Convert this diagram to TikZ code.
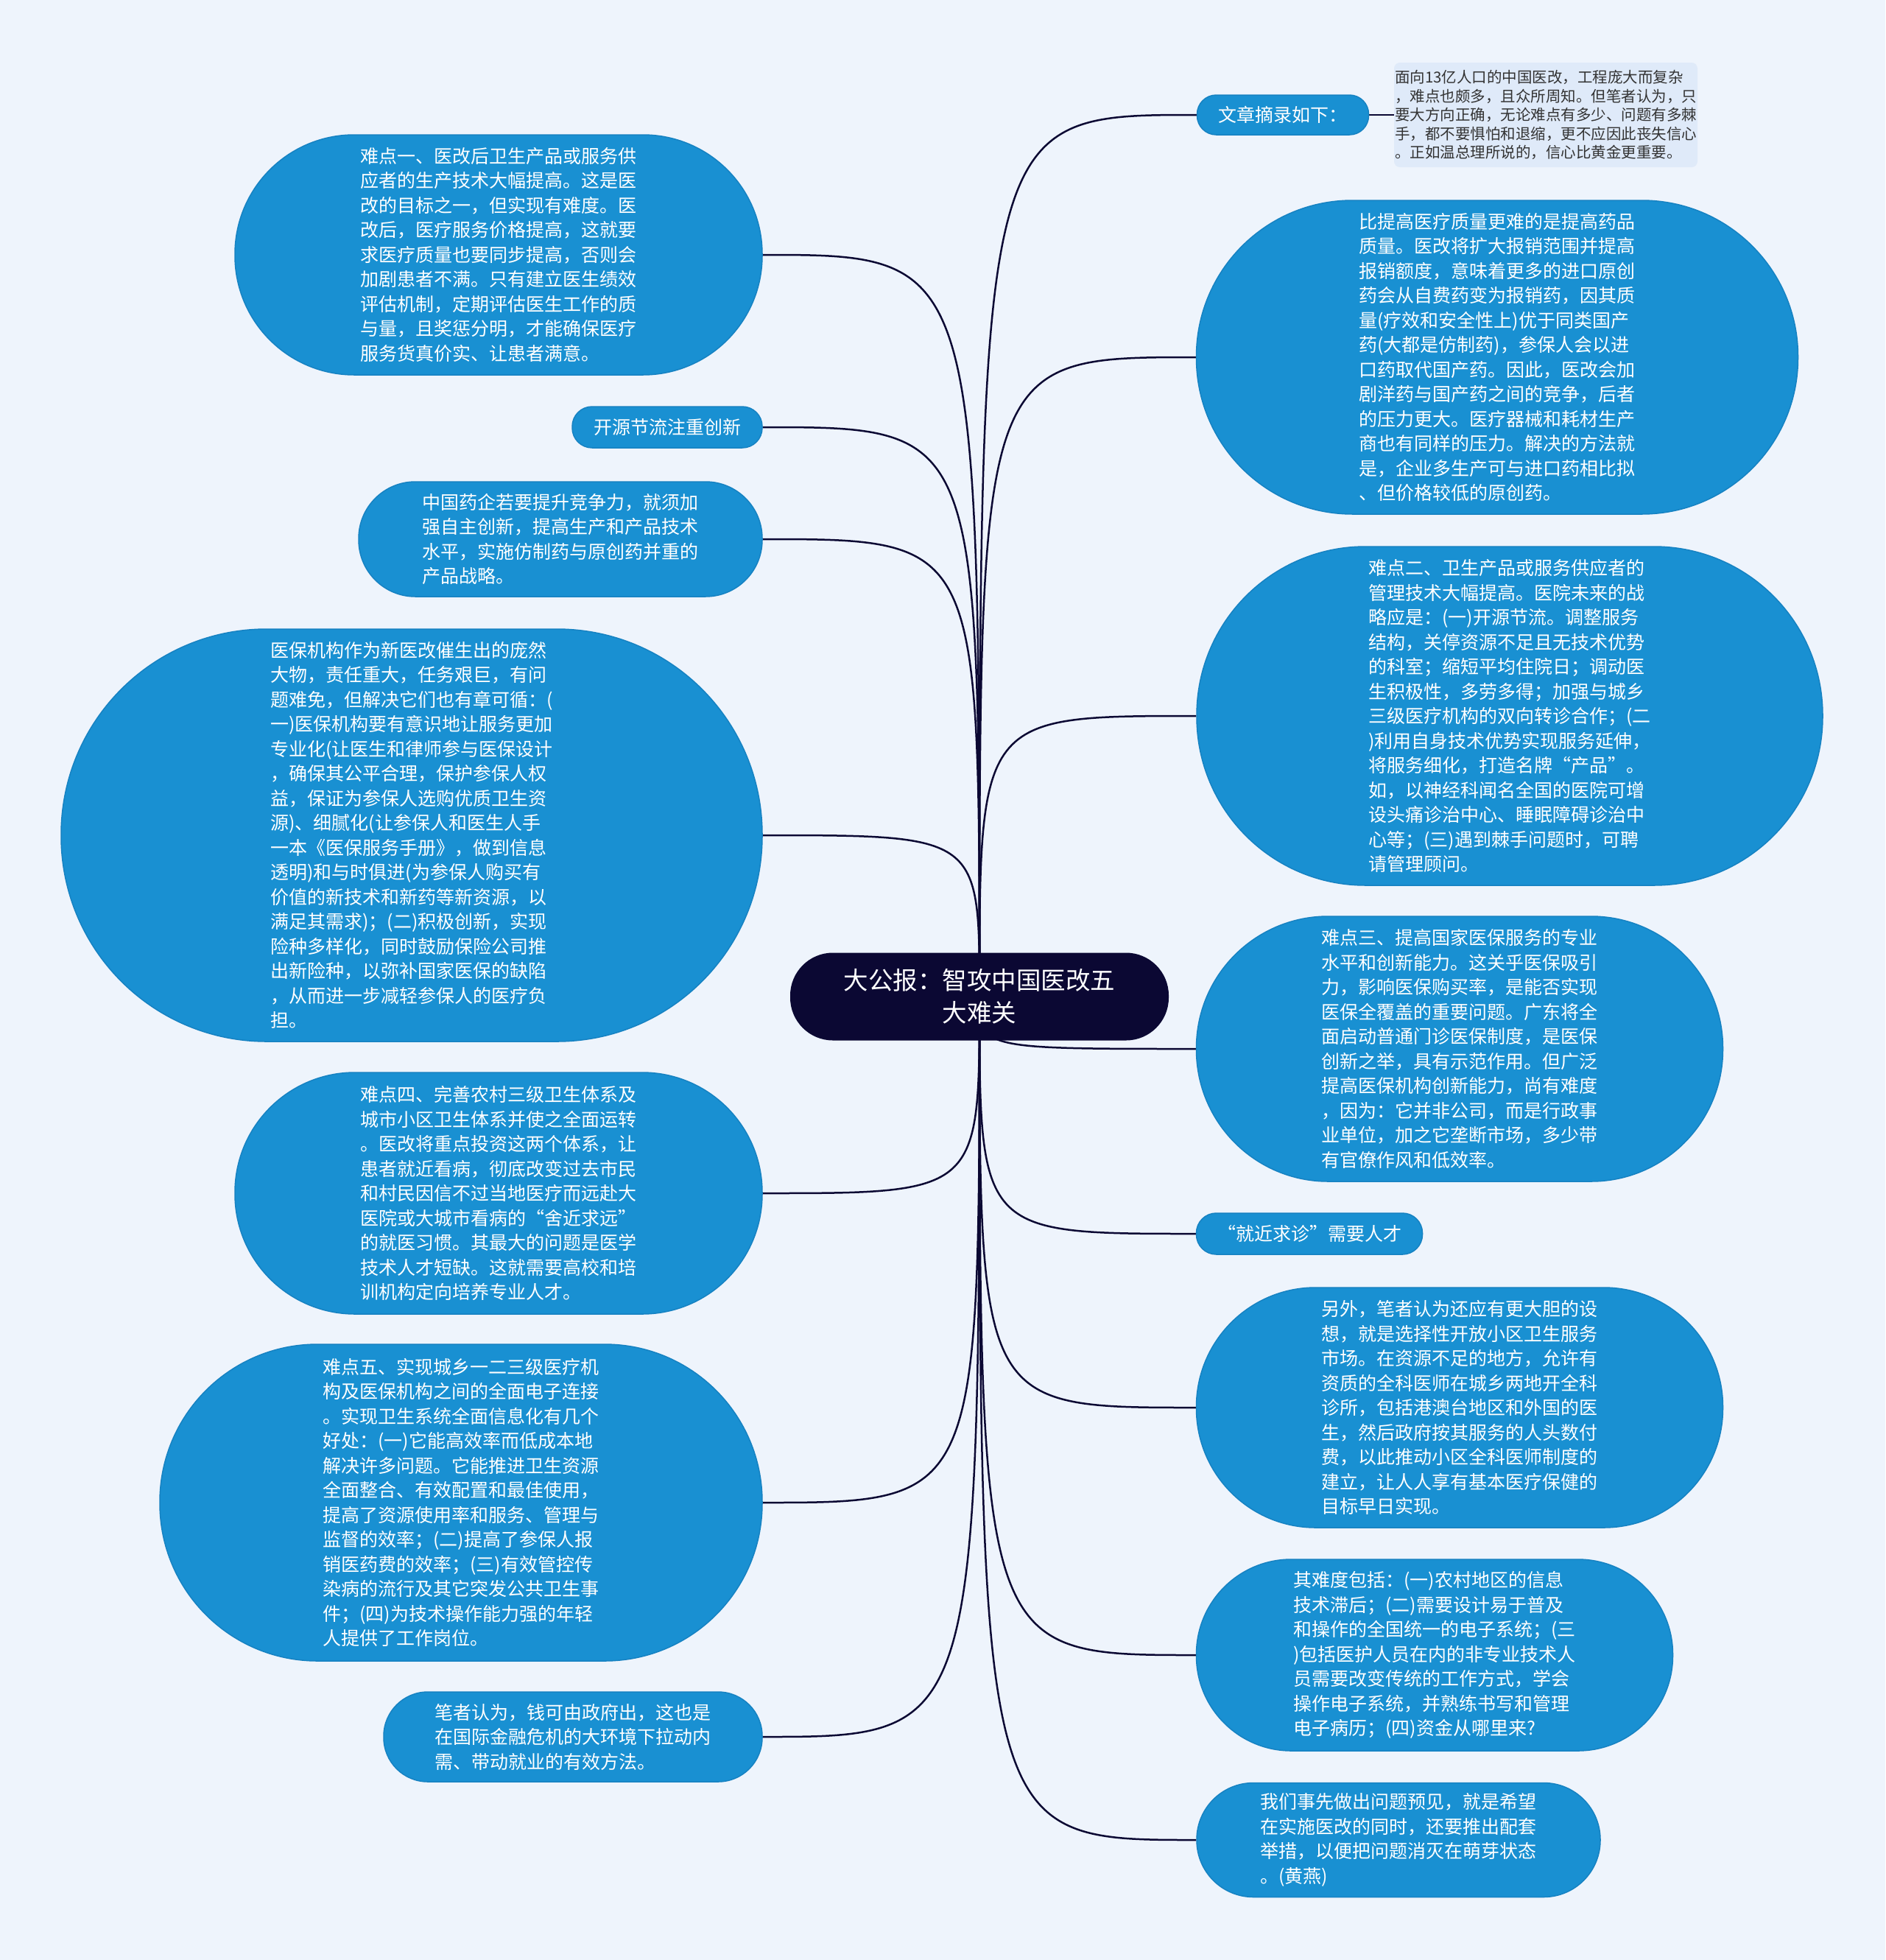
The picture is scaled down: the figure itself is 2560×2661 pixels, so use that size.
\documentclass[tikz,border=0pt]{standalone}
\usepackage{fontspec}
\newfontfamily\cjk{Noto Sans CJK SC}
\usetikzlibrary{backgrounds}
\definecolor{bgc}{HTML}{EEF4FC}
\definecolor{nblue}{HTML}{1990D2}
\definecolor{nborder}{HTML}{1682C2}
\definecolor{navy}{HTML}{0B0833}
\definecolor{sumfill}{HTML}{DFEAF9}
\definecolor{sumtext}{HTML}{333333}
\begin{document}
\begin{tikzpicture}[x=1pt,y=-1pt,
  bubble/.style n args={3}{fill=nblue, draw=nborder, line width=1.5pt, text=white,
    rounded corners=#3, inner sep=0pt, align=left, minimum width=#1, minimum height=#2,
    font=\cjk\fontsize{25}{33.5}\selectfont},
  ctrsty/.style={fill=navy, text=white, rounded corners=58, minimum width=514,
    minimum height=119, align=center, inner sep=0pt, font=\cjk\fontsize{33.5}{44}\selectfont},
  sumsty/.style={fill=sumfill, text=sumtext, rounded corners=8, minimum width=412,
    minimum height=142, align=left, inner sep=0pt, font=\cjk\fontsize{20.5}{25.5}\selectfont},
  conn/.style={draw=navy, line width=2.5pt}]

% central topic
\node[ctrsty] (ctr) at (1330,1353) {大公报：智攻中国医改五\\大难关};

% right side
\node[bubble={233}{54}{26}] (abs) at (1742,156) {文章摘录如下：};
\node[sumsty] (sum) at (2099,156) {面向13亿人口的中国医改，工程庞大而复杂\\，难点也颇多，且众所周知。但笔者认为，只\\要大方向正确，无论难点有多少、问题有多棘\\手，都不要惧怕和退缩，更不应因此丧失信心\\。正如温总理所说的，信心比黄金更重要。};

\node[bubble={817}{426}{212}] (r1) at (2033,485) {比提高医疗质量更难的是提高药品\\质量。医改将扩大报销范围并提高\\报销额度，意味着更多的进口原创\\药会从自费药变为报销药，因其质\\量(疗效和安全性上)优于同类国产\\药(大都是仿制药)，参保人会以进\\口药取代国产药。因此，医改会加\\剧洋药与国产药之间的竞争，后者\\的压力更大。医疗器械和耗材生产\\商也有同样的压力。解决的方法就\\是，企业多生产可与进口药相比拟\\、但价格较低的原创药。};

\node[bubble={850}{460}{229}] (r2) at (2050,972) {难点二、卫生产品或服务供应者的\\管理技术大幅提高。医院未来的战\\略应是：(一)开源节流。调整服务\\结构，关停资源不足且无技术优势\\的科室；缩短平均住院日；调动医\\生积极性，多劳多得；加强与城乡\\三级医疗机构的双向转诊合作；(二\\)利用自身技术优势实现服务延伸，\\将服务细化，打造名牌“产品”。\\如，以神经科闻名全国的医院可增\\设头痛诊治中心、睡眠障碍诊治中\\心等；(三)遇到棘手问题时，可聘\\请管理顾问。};

\node[bubble={715}{360}{179}] (r3) at (1982,1424) {难点三、提高国家医保服务的专业\\水平和创新能力。这关乎医保吸引\\力，影响医保购买率，是能否实现\\医保全覆盖的重要问题。广东将全\\面启动普通门诊医保制度，是医保\\创新之举，具有示范作用。但广泛\\提高医保机构创新能力，尚有难度\\，因为：它并非公司，而是行政事\\业单位，加之它垄断市场，多少带\\有官僚作风和低效率。};

\node[bubble={307}{56}{27}] (r4) at (1778,1675) {“就近求诊”需要人才};

\node[bubble={715}{326}{162}] (r5) at (1982,1911) {另外，笔者认为还应有更大胆的设\\想，就是选择性开放小区卫生服务\\市场。在资源不足的地方，允许有\\资质的全科医师在城乡两地开全科\\诊所，包括港澳台地区和外国的医\\生，然后政府按其服务的人头数付\\费，以此推动小区全科医师制度的\\建立，让人人享有基本医疗保健的\\目标早日实现。};

\node[bubble={647}{260}{129}] (r6) at (1948,2247) {其难度包括：(一)农村地区的信息\\技术滞后；(二)需要设计易于普及\\和操作的全国统一的电子系统；(三\\)包括医护人员在内的非专业技术人\\员需要改变传统的工作方式，学会\\操作电子系统，并熟练书写和管理\\电子病历；(四)资金从哪里来?};

\node[bubble={548}{155}{77}] (r7) at (1899,2498) {我们事先做出问题预见，就是希望\\在实施医改的同时，还要推出配套\\举措，以便把问题消灭在萌芽状态\\。(黄燕)};

% left side
\node[bubble={716}{326}{162}] (l1) at (677,346) {难点一、医改后卫生产品或服务供\\应者的生产技术大幅提高。这是医\\改的目标之一，但实现有难度。医\\改后，医疗服务价格提高，这就要\\求医疗质量也要同步提高，否则会\\加剧患者不满。只有建立医生绩效\\评估机制，定期评估医生工作的质\\与量，且奖惩分明，才能确保医疗\\服务货真价实、让患者满意。};

\node[bubble={258}{56}{27}] (l2) at (906,580) {开源节流注重创新};

\node[bubble={548}{156}{77}] (l3) at (761,732) {中国药企若要提升竞争力，就须加\\强自主创新，提高生产和产品技术\\水平，实施仿制药与原创药并重的\\产品战略。};

\node[bubble={952}{560}{279}] (l4) at (559,1134) {医保机构作为新医改催生出的庞然\\大物，责任重大，任务艰巨，有问\\题难免，但解决它们也有章可循：(\\一)医保机构要有意识地让服务更加\\专业化(让医生和律师参与医保设计\\，确保其公平合理，保护参保人权\\益，保证为参保人选购优质卫生资\\源)、细腻化(让参保人和医生人手\\一本《医保服务手册》，做到信息\\透明)和与时俱进(为参保人购买有\\价值的新技术和新药等新资源，以\\满足其需求)；(二)积极创新，实现\\险种多样化，同时鼓励保险公司推\\出新险种，以弥补国家医保的缺陷\\，从而进一步减轻参保人的医疗负\\担。};

\node[bubble={716}{328}{163}] (l5) at (677,1620) {难点四、完善农村三级卫生体系及\\城市小区卫生体系并使之全面运转\\。医改将重点投资这两个体系，让\\患者就近看病，彻底改变过去市民\\和村民因信不过当地医疗而远赴大\\医院或大城市看病的“舍近求远”\\的就医习惯。其最大的问题是医学\\技术人才短缺。这就需要高校和培\\训机构定向培养专业人才。};

\node[bubble={818}{430}{214}] (l6) at (626,2040) {难点五、实现城乡一二三级医疗机\\构及医保机构之间的全面电子连接\\。实现卫生系统全面信息化有几个\\好处：(一)它能高效率而低成本地\\解决许多问题。它能推进卫生资源\\全面整合、有效配置和最佳使用，\\提高了资源使用率和服务、管理与\\监督的效率；(二)提高了参保人报\\销医药费的效率；(三)有效管控传\\染病的流行及其它突发公共卫生事\\件；(四)为技术操作能力强的年轻\\人提供了工作岗位。};

\node[bubble={514}{122}{60}] (l7) at (778,2358) {笔者认为，钱可由政府出，这也是\\在国际金融危机的大环境下拉动内\\需、带动就业的有效方法。};

\begin{pgfonlayer}{background}
  \path[use as bounding box, fill=bgc] (0,0) rectangle (2560,2661);
  \foreach \n in {abs,r1,r2,r3,r4,r5,r6,r7}
    \draw[conn] (ctr.center) .. controls (ctr.center |- \n.west) and (ctr.center |- \n.west) .. (\n.west);
  \foreach \n in {l1,l2,l3,l4,l5,l6,l7}
    \draw[conn] (ctr.center) .. controls (ctr.center |- \n.east) and (ctr.center |- \n.east) .. (\n.east);
  \draw[conn] (abs.east) -- (sum.west);
\end{pgfonlayer}
\end{tikzpicture}
\end{document}
